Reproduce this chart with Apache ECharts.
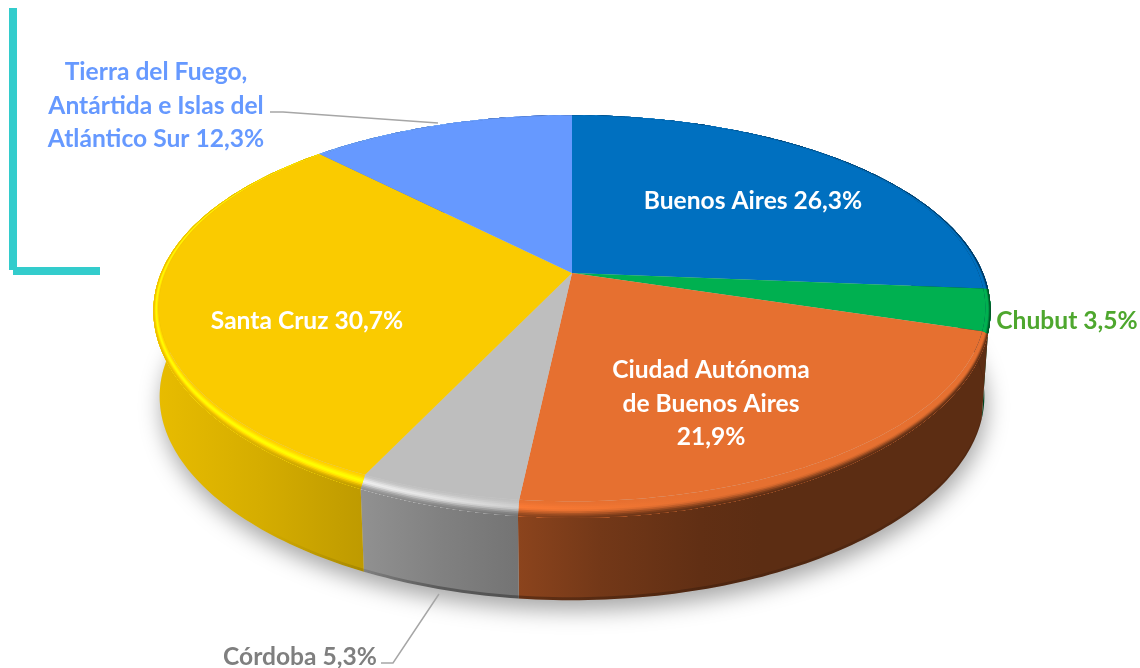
<!DOCTYPE html>
<html>
<head>
<meta charset="utf-8">
<style>
html, body { margin: 0; padding: 0; background: #fff; }
#main { width: 1140px; height: 668px; }
</style>
<script src="https://cdn.jsdelivr.net/npm/echarts@6/dist/echarts.min.js"></script>
</head>
<body>
<div id="main"></div>
<script>
var categories = ['Buenos Aires', 'Chubut', 'Ciudad Autónoma\nde Buenos Aires', 'Córdoba', 'Santa Cruz', 'Tierra del Fuego,\nAntártida e Islas del\nAtlántico Sur'];
var values = [26.3, 3.5, 21.9, 5.3, 30.7, 12.3];

var colors = [[0, 112, 192], [0, 176, 80], [230, 112, 48], [190, 190, 190], [250, 203, 0], [102, 153, 255]];
var labelColors = ['#ffffff', '#4ea72e', '#ffffff', '#7f7f7f', '#ffffff', '#6699ff'];
var labelCenters = [[753, 201], [1067, 321], [711, 404], [300, 657], [307, 321], [156, 106]];

// perspective of the pie disc, fitted by eye
var cx = 572, cy = 273, a = 411, b = 192, kx = 0.19, ky = 0.216;
var bottomY = 359, bottomScale = 0.985;
var bevelInset = 0.018, bevelDrop = 11;

// how dark the side wall gets going from left to right
var lightX = [150, 260, 365, 440, 517, 600, 700, 760, 1000];
var lightV = [0.93, 0.85, 0.76, 0.68, 0.61, 0.5, 0.42, 0.4, 0.4];
var glossV = [1, 1, 1, 0.8, 0.35, 0.2, 0, 0, 0];
var lipV = [0, 0, 0.12, 0.3, 0.3, 0.25, 0.2, 0.15, 0.1];

var total = 0;
values.forEach(function (v) { total += v; });

function toDeg(n) {
    var sum = 0;
    for (var i = 0; i < n; i++) sum += values[i];
    return sum / total * 360;
}

function rimPoint(deg, t) {
    var rad = deg * Math.PI / 180;
    var u0 = Math.sin(rad), v0 = -Math.cos(rad);
    // bevel is thin at the back of the disc and widest in front
    var r = 1 - bevelInset * (1 - t) * (0.6 + 0.4 * v0);
    var u = r * u0, v = r * v0;
    var drop = bevelDrop * (1 - t) * Math.pow(Math.max(0, v0), 1.5);
    return [cx + a * u / (1 - kx * v), cy + b * v / (1 - ky * v) - drop];
}

function bottomPoint(deg, lift) {
    var rad = deg * Math.PI / 180;
    var u = Math.sin(rad), v = -Math.cos(rad);
    return [cx + bottomScale * a * u / (1 - kx * v), bottomY - lift + bottomScale * b * v / (1 - ky * v)];
}

function arc(fn, d0, d1, arg) {
    var pts = [], n = Math.max(2, Math.ceil(d1 - d0));
    for (var i = 0; i <= n; i++) pts.push(fn(d0 + (d1 - d0) * i / n, arg));
    return pts;
}

function rgb(c, f) {
    return 'rgb(' + c.map(function (x) { return Math.min(255, Math.round(x * f)); }).join(',') + ')';
}

function smooth(e0, e1, x) {
    var t = Math.max(0, Math.min(1, (x - e0) / (e1 - e0)));
    return t * t * (3 - 2 * t);
}

function xGradient(fn) {
    var stops = lightX.map(function (x, i) {
        return { offset: (x - 150) / 850, color: fn(i) };
    });
    return new echarts.graphic.LinearGradient(150, 0, 1000, 0, stops, true);
}

function bevelColor(c, p) {
    return xGradient(function (i) {
        var dark = 1 + (lightV[i] - 1) * smooth(0.45, 1, p);
        var bump = Math.exp(-Math.pow((p - 0.45) / 0.25, 2));
        return rgb(c, dark * (1 + 0.25 * glossV[i] * bump));
    });
}

function poly(pts, fill, z2, extra) {
    var style = { fill: fill };
    for (var key in extra) style[key] = extra[key];
    return { type: 'polygon', z2: z2, silent: true, shape: { points: pts }, style: style };
}

function renderSlice(params) {
    var i = params.dataIndex;
    var d0 = toDeg(i), d1 = toDeg(i + 1);
    var c = colors[i];
    var kids = [];

    if (i == 0) {
        kids.push(poly(arc(bottomPoint, 0, 360, 0), '#cccccc', 0, {
            shadowBlur: 22, shadowOffsetY: 10, shadowOffsetX: 2, shadowColor: 'rgba(0,0,0,0.35)'
        }));
    }

    // side wall
    var wall = arc(rimPoint, d0, d1, 1).concat(arc(bottomPoint, d0, d1, 0).reverse());
    kids.push(poly(wall, xGradient(function (n) { return rgb(c, lightV[n]); }), 2));

    // dark lip along the lower edge
    var lip = arc(bottomPoint, d0, d1, 3).concat(arc(bottomPoint, d0, d1, 0).reverse());
    kids.push(poly(lip, xGradient(function (n) { return 'rgba(0,0,0,' + lipV[n] + ')'; }), 3));

    // bevel, painted inner to outer so the strips leave no seams
    for (var s = 0; s < 10; s++) {
        var p = (s + 0.5) / 10;
        var strip = arc(rimPoint, d0, d1, s / 10).concat(arc(rimPoint, d0, d1, 1).reverse());
        kids.push(poly(strip, bevelColor(c, p), 10 + s));
    }

    // flat top
    var face = [[cx, cy]].concat(arc(rimPoint, d0, d1, 0));
    kids.push(poly(face, rgb(c, 1), 25));

    var sep = i == 2 ? '\n' : ' ';
    kids.push({
        type: 'text', z2: 40, silent: true,
        x: labelCenters[i][0], y: labelCenters[i][1],
        style: {
            text: categories[i] + sep + values[i].toFixed(1).replace('.', ',') + '%',
            fill: labelColors[i],
            font: 'bold 24.6px Lato',
            lineHeight: 33.5,
            align: 'center',
            verticalAlign: 'middle'
        }
    });

    return { type: 'group', children: kids };
}

var option = {
    backgroundColor: '#ffffff',
    animation: false,
    graphic: [
        { type: 'rect', shape: { x: 9, y: 8, width: 8, height: 262 }, style: { fill: '#33cccc' } },
        { type: 'rect', shape: { x: 13, y: 267, width: 87, height: 8 }, style: { fill: '#33cccc' } },
        { type: 'polyline', shape: { points: [[270, 112], [283, 112], [438, 123]] }, style: { fill: 'none', stroke: '#a6a6a6', lineWidth: 1.5 } },
        { type: 'polyline', shape: { points: [[381, 663], [393, 663], [439, 594]] }, style: { fill: 'none', stroke: '#a6a6a6', lineWidth: 1.5 }, z: 5 }
    ],
    series: [
        {
            type: 'custom',
            coordinateSystem: 'none',
            renderItem: renderSlice,
            data: values,
            silent: true
        }
    ]
};

var chart = echarts.init(document.getElementById('main'));
chart.setOption(option);
</script>
</body>
</html>
